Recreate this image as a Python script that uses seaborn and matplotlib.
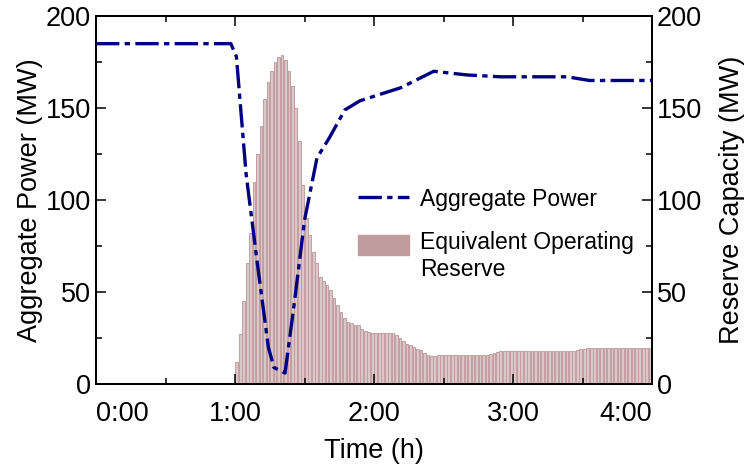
import numpy as np
import pandas as pd
import seaborn as sns
import matplotlib.pyplot as plt
from matplotlib.patches import Patch, Rectangle
from matplotlib.lines import Line2D
from matplotlib.legend_handler import HandlerPatch
from matplotlib.ticker import MultipleLocator

sns.set_style("ticks", {"axes.edgecolor": "black", "xtick.color": "black",
                        "ytick.color": "black", "text.color": "black",
                        "axes.labelcolor": "black"})
plt.rcParams["font.family"] = ["Liberation Sans", "DejaVu Sans"]

# aggregate power (left axis), time in hours
power_time = [0, 0.5, 0.97, 1.01, 1.08, 1.16, 1.24, 1.28, 1.36, 1.43, 1.50, 1.59,
              1.68, 1.79, 1.90, 2.19, 2.43, 2.67, 2.91, 3.39, 3.55, 4.0]
power_mw = [185, 185, 185, 178, 114, 66, 20, 9, 6, 46, 89, 123,
            134, 149, 154, 161, 170, 168, 167, 167, 165, 165]

# equivalent operating reserve (right axis), one bar every 1.5 min from 1:00
reserve_mw = [12, 27, 45, 66, 82, 110, 125, 140, 155, 164,
              170, 175, 178, 179, 176, 170, 162, 150, 132, 108,
              90, 81, 72, 66, 58, 56, 54, 51, 47, 43,
              39, 36, 34, 33, 32, 32, 30, 29, 28.5, 28,
              27.5, 27.5, 27.5, 27.5, 27.5, 27.5, 26.5, 25, 23.5, 22,
              21, 20, 19, 18.5, 17, 16, 15.2, 15.5, 16, 16,
              16, 16, 16, 16, 16, 16, 16, 16, 16, 16,
              16, 16, 16, 16.5, 17, 17.5, 18, 18, 18, 18,
              18, 18, 18, 18, 18, 18, 18, 18, 18, 18,
              18, 18, 18, 18, 18, 18, 18, 18, 18.5, 18.8,
              19, 19.4, 19.4, 19.4, 19.4, 19.4, 19.4, 19.4, 19.4, 19.4,
              19.4, 19.4, 19.4, 19.4, 19.4, 19.4, 19.4, 19.4, 19.4, 19.4]
bar_step = 0.025
reserve_time = [1 + bar_step * (i + 0.5) for i in range(len(reserve_mw))]

time_labels = ["0:00", "1:00", "2:00", "3:00", "4:00"]

power_df = pd.DataFrame({"time": power_time, "power": power_mw})
reserve_df = pd.DataFrame({"time": reserve_time, "reserve": reserve_mw})

fig = plt.figure(figsize=(7.46, 4.73), dpi=100)
ax1 = fig.add_axes([0.1287, 0.188, 0.7453, 0.778])
ax2 = ax1.twinx()

sns.histplot(data=reserve_df, x="time", weights="reserve", binwidth=bar_step,
             binrange=(1, 4), shrink=0.78, color="#dcc7c8", edgecolor="#c29ea0",
             linewidth=0.7, alpha=1, ax=ax2)

dash = (0, (7, 1.6, 1.6, 1.6))
sns.lineplot(data=power_df, x="time", y="power", ax=ax1, color="#000080",
             linewidth=2.4, linestyle=dash)

ax1.set_zorder(ax2.get_zorder() + 1)
ax1.patch.set_visible(False)

for ax in (ax1, ax2):
    ax.set_xlim(0, 4)
    ax.set_ylim(0, 200)
    ax.yaxis.set_major_locator(MultipleLocator(50))
    ax.yaxis.set_minor_locator(MultipleLocator(25))
    ax.tick_params(which="both", direction="in", width=1.1, color="black",
                   labelsize=19.5)
    ax.tick_params(which="major", length=7)
    ax.tick_params(which="minor", length=4)
    for s in ax.spines.values():
        s.set_linewidth(1.3)
        s.set_color("black")

ax1.set_xticks([0, 1, 2, 3, 4], labels=time_labels)
ax1.xaxis.set_minor_locator(MultipleLocator(0.5))
ax1.tick_params(axis="x", which="both", top=True, pad=12)
ax1.tick_params(axis="y", which="both", right=False)
ticklabels = ax1.get_xticklabels()
ticklabels[0].set_ha("left")
ticklabels[-1].set_ha("right")

ax1.set_xlabel("Time (h)", fontsize=19.5, labelpad=8)
ax1.set_ylabel("Aggregate Power (MW)", fontsize=19.5, labelpad=2)
ax2.set_ylabel("Reserve Capacity (MW)", fontsize=19.5, labelpad=12)
ax2.set_xlabel("")


def raised_patch(legend, orig_handle, xdescent, ydescent, width, height, fontsize):
    return Rectangle((-xdescent, -ydescent + 9), width, height)


handles = [Line2D([], [], color="#000080", linewidth=2.4, linestyle=dash),
           Patch(facecolor="#c19c9e", edgecolor="#c19c9e")]
ax1.legend(handles, ["Aggregate Power", "Equivalent Operating\nReserve"],
           loc="upper left", bbox_to_anchor=(0.435, 0.59), frameon=False,
           fontsize=16.5, handlelength=2.2, handleheight=1.0, labelspacing=0.9,
           handletextpad=0.5,
           handler_map={Patch: HandlerPatch(patch_func=raised_patch)})

fig.savefig("out.png", dpi=100)
